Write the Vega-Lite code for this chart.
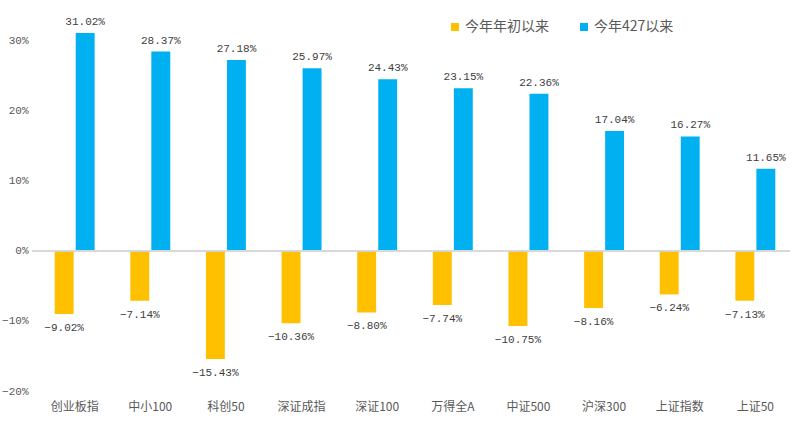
{
  "$schema": "https://vega.github.io/schema/vega-lite/v6.json",
  "width": 766,
  "height": 386,
  "autosize": "none",
  "padding": {"left": 32, "top": 5, "right": 0, "bottom": 47},
  "background": "white",
  "config": {"view": {"stroke": null}},
  "data": {
    "values": [
      {"index": "创业板指", "series": "今年年初以来", "value": -0.0902},
      {"index": "创业板指", "series": "今年427以来", "value": 0.3102},
      {"index": "中小100", "series": "今年年初以来", "value": -0.0714},
      {"index": "中小100", "series": "今年427以来", "value": 0.2837},
      {"index": "科创50", "series": "今年年初以来", "value": -0.1543},
      {"index": "科创50", "series": "今年427以来", "value": 0.2718},
      {"index": "深证成指", "series": "今年年初以来", "value": -0.1036},
      {"index": "深证成指", "series": "今年427以来", "value": 0.2597},
      {"index": "深证100", "series": "今年年初以来", "value": -0.088},
      {"index": "深证100", "series": "今年427以来", "value": 0.2443},
      {"index": "万得全A", "series": "今年年初以来", "value": -0.0774},
      {"index": "万得全A", "series": "今年427以来", "value": 0.2315},
      {"index": "中证500", "series": "今年年初以来", "value": -0.1075},
      {"index": "中证500", "series": "今年427以来", "value": 0.2236},
      {"index": "沪深300", "series": "今年年初以来", "value": -0.0816},
      {"index": "沪深300", "series": "今年427以来", "value": 0.1704},
      {"index": "上证指数", "series": "今年年初以来", "value": -0.0624},
      {"index": "上证指数", "series": "今年427以来", "value": 0.1627},
      {"index": "上证50", "series": "今年年初以来", "value": -0.0713},
      {"index": "上证50", "series": "今年427以来", "value": 0.1165}
    ]
  },
  "encoding": {
    "x": {
      "field": "index", "type": "nominal", "sort": null,
      "scale": {"paddingInner": 0.472, "paddingOuter": 0.3},
      "axis": {"title": null, "labelAngle": 0, "domain": false, "ticks": false, "labelPadding": 10,
               "labelFont": "Noto Sans CJK SC", "labelFontSize": 12, "labelColor": "#595959"}
    },
    "xOffset": {"field": "series", "type": "nominal", "sort": ["今年年初以来", "今年427以来"], "scale": {"paddingInner": 0.1}},
    "y": {
      "field": "value", "type": "quantitative",
      "scale": {"domain": [-0.2, 0.35], "nice": false},
      "axis": {"title": null, "format": ".0%", "values": [-0.2, -0.1, 0, 0.1, 0.2, 0.3], "grid": false, "domain": false, "ticks": false,
               "labelFont": "Liberation Mono", "labelFontSize": 11, "labelColor": "#595959", "labelPadding": 4}
    }
  },
  "layer": [
    {
      "mark": {"type": "bar"},
      "encoding": {
        "color": {
          "field": "series", "type": "nominal", "sort": ["今年年初以来", "今年427以来"],
          "scale": {"domain": ["今年年初以来", "今年427以来"], "range": ["#FFC000", "#00B0F0"]},
          "legend": {"title": null, "orient": "none", "direction": "horizontal", "legendX": 416, "legendY": 15,
                     "symbolType": "square", "symbolSize": 64, "symbolStrokeWidth": 0, "labelFont": "Noto Sans CJK SC",
                     "labelFontSize": 14, "labelColor": "#595959", "columnPadding": 28, "labelOffset": 3}
        }
      }
    },
    {
      "mark": {"type": "rule", "color": "#d9d9d9", "strokeWidth": 1},
      "encoding": {"x": {"value": 0}, "x2": {"value": 758}, "y": {"datum": 0}, "xOffset": null}
    },
    {
      "transform": [{"filter": "datum.value >= 0"}],
      "mark": {"type": "text", "baseline": "bottom", "dy": -6, "font": "Liberation Mono", "fontSize": 11, "color": "#404040"},
      "encoding": {"text": {"field": "value", "type": "quantitative", "format": ".2%"}}
    },
    {
      "transform": [{"filter": "datum.value < 0"}],
      "mark": {"type": "text", "baseline": "top", "dy": 8, "font": "Liberation Mono", "fontSize": 11, "color": "#404040"},
      "encoding": {"text": {"field": "value", "type": "quantitative", "format": ".2%"}}
    }
  ]
}
